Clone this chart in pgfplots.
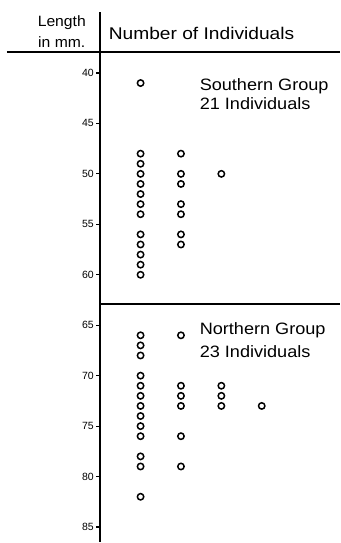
\documentclass[border=0pt]{standalone}
\usepackage{fontspec}
\setmainfont{Liberation Sans}
\usepackage{pgfplots}
\pgfplotsset{compat=1.18}
\begin{document}
\begin{tikzpicture}
\begin{axis}[
  scale only axis, width=240.5pt, height=531pt,
  xmin=0, xmax=5.94, ymin=34, ymax=86.5, y dir=reverse,
  axis x line=none, axis y line*=left,
  ytick={40,45,...,85},
  tick align=outside, major tick length=4pt,
  tick style={line width=1.1pt, black},
  axis line style={line width=1.7pt},
  yticklabel style={font=\fontsize{10.5}{10.5}\selectfont, xshift=1pt},
  /pgf/number format/assume math mode=true,
  clip=false,
]
% Southern group
\addplot[only marks, mark=o, mark size=3.2pt, mark options={line width=1.5pt}] table {
x y
1 41
1 48
1 49
1 50
1 51
1 52
1 53
1 54
1 56
1 57
1 58
1 59
1 60
2 48
2 50
2 51
2 53
2 54
2 56
2 57
3 50
};
% Northern group
\addplot[only marks, mark=o, mark size=3.2pt, mark options={line width=1.5pt}] table {
x y
1 66
1 67
1 68
1 70
1 71
1 72
1 73
1 74
1 75
1 76
1 78
1 79
1 82
2 66
2 71
2 72
2 73
2 76
2 79
3 71
3 72
3 73
4 73
};
\draw[line width=1.7pt] (axis cs:-2.31,37.92) -- (axis cs:5.94,37.92);
\draw[line width=1.7pt] (axis cs:0,62.87) -- (axis cs:5.94,62.87);
\path (axis cs:-2.48,32.77) -- (axis cs:5.94,32.77);
\node[font=\fontsize{15}{15}\selectfont, xscale=1.05] at (axis cs:-0.95,35.0) {Length};
\node[font=\fontsize{15}{15}\selectfont, xscale=1.05] at (axis cs:-0.95,36.95) {in mm.};
\node[font=\fontsize{17}{17}\selectfont, xscale=1.13] at (axis cs:2.51,36.1) {Number of Individuals};
\node[font=\fontsize{16.5}{16.5}\selectfont, xscale=1.1, anchor=west, inner sep=0pt] at (axis cs:2.46,41.3) {Southern Group};
\node[font=\fontsize{16.5}{16.5}\selectfont, xscale=1.1, anchor=west, inner sep=0pt] at (axis cs:2.46,43.05) {21 Individuals};
\node[font=\fontsize{16.5}{16.5}\selectfont, xscale=1.1, anchor=west, inner sep=0pt] at (axis cs:2.46,65.5) {Northern Group};
\node[font=\fontsize{16.5}{16.5}\selectfont, xscale=1.1, anchor=west, inner sep=0pt] at (axis cs:2.46,67.6) {23 Individuals};
\end{axis}
\end{tikzpicture}
\end{document}
